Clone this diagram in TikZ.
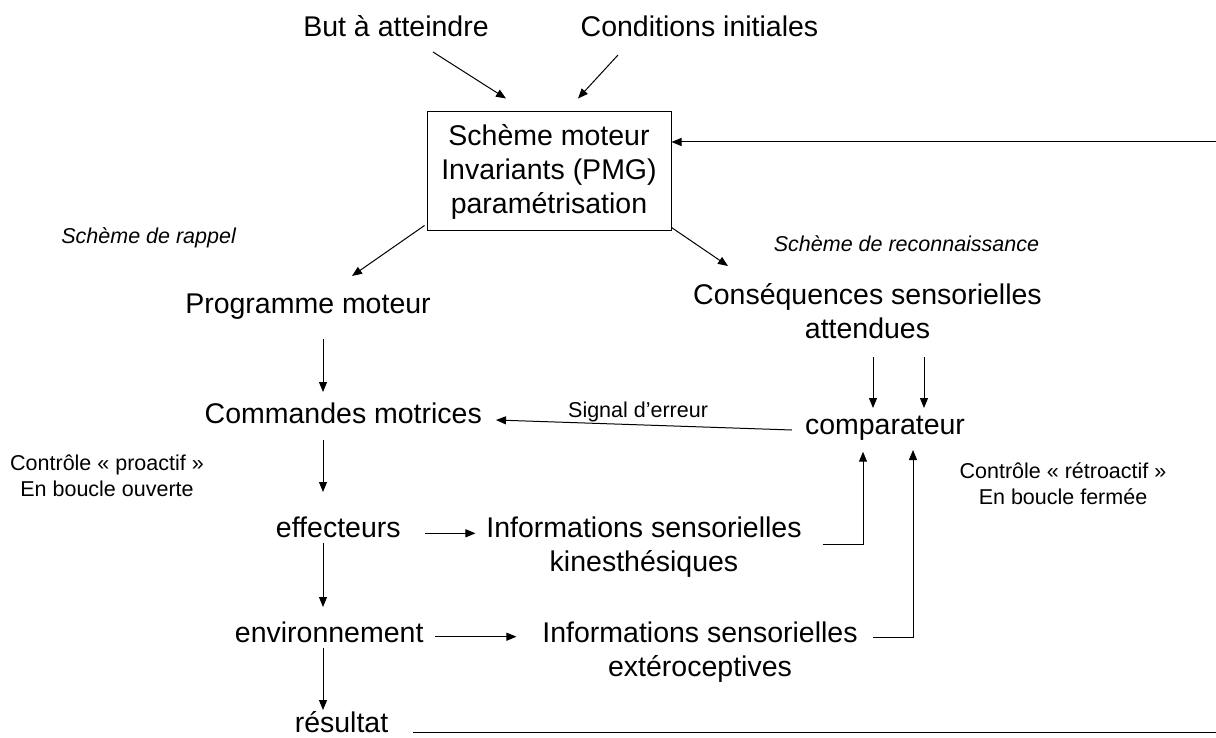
\documentclass[tikz,border=0pt]{standalone}
\usepackage{fontspec}
\setmainfont{Liberation Sans}
\usetikzlibrary{arrows.meta}

\begin{document}
\begin{tikzpicture}[
  x=1pt, y=-1pt,
  >={Triangle[length=10pt,width=8pt]},
  every path/.style={line width=1pt},
  lbl/.style={font=\fontsize{28.5}{34}\selectfont,align=center,inner sep=0pt},
  note/.style={font=\fontsize{21.5}{26}\selectfont,align=center,inner sep=0pt},
  cue/.style={font=\itshape\fontsize{21.5}{26}\selectfont,inner sep=0pt}
]
  \useasboundingbox (0,0) rectangle (1216,738);

  \node[lbl,anchor=base] (goal) at (396,37) {But à atteindre};
  \node[lbl,anchor=base] (init) at (699.5,37) {Conditions initiales};
  \node[lbl,draw,minimum width=244pt,minimum height=119pt] (scheme) at (549,171.5)
    {Schème moteur\\Invariants (PMG)\\paramétrisation};
  \node[cue,anchor=base] (rappel) at (148.6,243.3) {Schème de rappel};
  \node[cue,anchor=base] (reco) at (906.5,252) {Schème de reconnaissance};
  \node[lbl,anchor=base] (prog) at (308,313) {Programme moteur};
  \node[lbl] (csq) at (867.5,311.5) {Conséquences sensorielles\\attendues};
  \node[lbl,anchor=base] (cmd) at (343.3,423.3) {Commandes motrices};
  \node[lbl,anchor=base] (comp) at (885,434.3) {comparateur};
  \node[note] (proact) at (107,475.8) {Contrôle « proactif »\\En boucle ouverte};
  \node[note] (retro) at (1063,484) {Contrôle « rétroactif »\\En boucle fermée};
  \node[lbl,anchor=base] (eff) at (338.3,537) {effecteurs};
  \node[lbl] (kin) at (644,546.8) {Informations sensorielles\\kinesthésiques};
  \node[lbl,anchor=base] (env) at (329.2,642.7) {environnement};
  \node[lbl] (ext) at (700,652.5) {Informations sensorielles\\extéroceptives};
  \node[lbl,anchor=base] (res) at (341.5,732.5) {résultat};

  \draw[->] ([xshift=37pt,yshift=-15pt]goal.base) -- ([xshift=-43pt,yshift=13pt]scheme.north);
  \draw[->] ([xshift=-81.5pt,yshift=-18pt]init.base) -- ([xshift=29pt,yshift=13pt]scheme.north);
  \draw[->] ([xshift=-2pt,yshift=6pt]scheme.south west) -- ([xshift=44pt,yshift=37pt]prog.base);
  \draw[->] ([yshift=4pt]scheme.south east) -- ([xshift=-139.5pt,yshift=45.5pt]csq.center);

  \draw[->] ([xshift=15pt,yshift=-26pt]prog.base) -- ([xshift=-20.3pt,yshift=31.3pt]cmd.base);
  \draw[->] ([xshift=-20.3pt,yshift=-16.7pt]cmd.base) -- ([xshift=-15.3pt,yshift=45pt]eff.base);
  \draw[->] ([xshift=-15.3pt,yshift=-6pt]eff.base) -- ([xshift=-6.2pt,yshift=35.7pt]env.base);
  \draw[->] ([xshift=-6.2pt,yshift=-5.3pt]env.base) -- ([xshift=-18.5pt,yshift=22.5pt]res.base);

  \draw[->] ([xshift=5.5pt,yshift=-45.5pt]csq.center) -- ([xshift=-12pt,yshift=26.3pt]comp.base);
  \draw[->] ([xshift=56.5pt,yshift=-45.5pt]csq.center) -- ([xshift=39pt,yshift=26.3pt]comp.base);
  \draw[->] ([xshift=-93pt,yshift=4.3pt]comp.base) --
    node[note,above,pos=0.52,yshift=2pt] (signal) {Signal d’erreur}
    ([xshift=152.7pt,yshift=3.3pt]cmd.base);

  \draw[->] ([xshift=86.7pt,yshift=3.7pt]eff.base) -- ([xshift=-10.4pt,yshift=13.5pt]kin.west);
  \draw[->] ([xshift=105.8pt,yshift=6pt]env.base) -- ([xshift=-25.4pt,yshift=15.8pt]ext.west);
  \draw[->] ([xshift=20.4pt,yshift=2.8pt]kin.east) -| ([xshift=-22pt,yshift=-17.4pt]comp.base);
  \draw[->] ([xshift=14.4pt,yshift=15.5pt]ext.east) -| ([xshift=28pt,yshift=-15.7pt]comp.base);

  \coordinate (loop) at (1218,142);
  \draw[->] ([xshift=71.5pt,yshift=0.5pt]res.base) -| (loop) -- (loop -| scheme.east);
\end{tikzpicture}
\end{document}
